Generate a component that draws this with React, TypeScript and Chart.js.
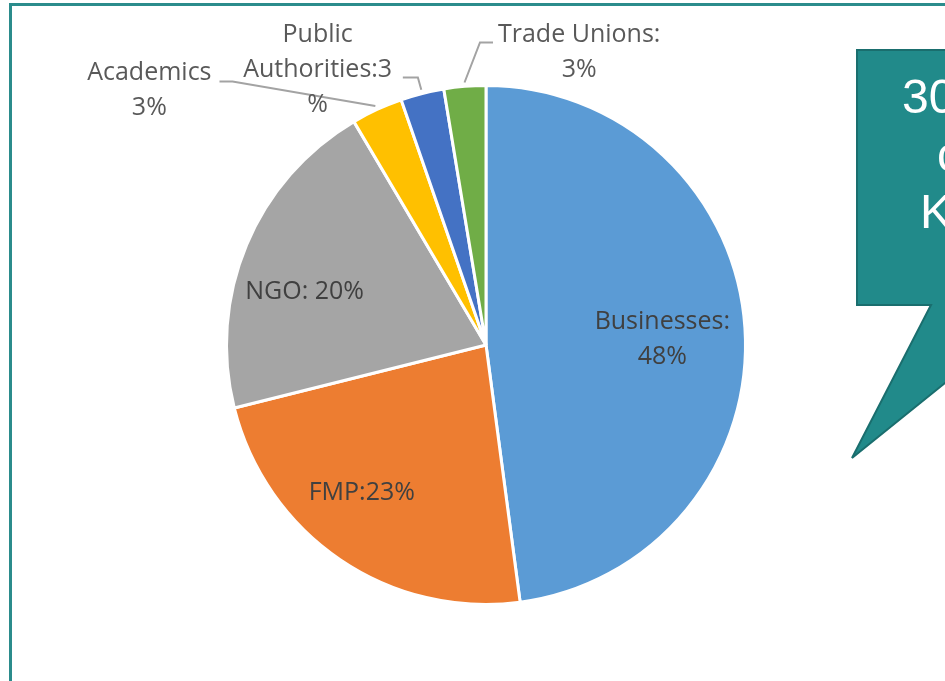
import React, { useEffect, useRef } from "react";
import { Chart, registerables } from "chart.js";

Chart.register(...registerables);

const categories = ["Businesses", "FMP", "NGO", "Academics", "Public Authorities", "Trade Unions"];
const shares = [47.9, 23.2, 20.4, 3.2, 2.7, 2.6];
const sliceColors = ["#5B9BD5", "#ED7D31", "#A5A5A5", "#FFC000", "#4472C4", "#70AD47"];
// label text templates; {v} is replaced by the rounded share
const labelTemplates = [
  ["Businesses:", "{v}%"],
  ["FMP:{v}%"],
  ["NGO: {v}%"],
  ["Academics", "{v}%"],
  ["Public", "Authorities:{v}", "%"],
  ["Trade Unions:", "{v}%"],
];
const calloutLines = ["30", "c", "K"];

// label layout (style): centre of label relative to pie centre, in reference-radius pixels
const REF_R = 259;
const labelLayout: { pos: [number, number]; inside: boolean; leader?: [number, number][] }[] = [
  { pos: [176, -6], inside: true },
  { pos: [-124, 148], inside: true },
  { pos: [-181, -53], inside: true },
  { pos: [-336, -254], inside: false, leader: [[-253, -263], [-266, -263]] },
  { pos: [-168, -275], inside: false, leader: [[-68, -267], [-83, -267]] },
  { pos: [93, -292], inside: false, leader: [[-6, -302], [7, -302]] },
];

const labelPlugin = {
  id: "sliceLabels",
  afterDatasetsDraw(chart: any) {
    const meta = chart.getDatasetMeta(0);
    const ctx = chart.ctx as CanvasRenderingContext2D;
    const data = chart.data.datasets[0].data as number[];
    ctx.save();
    meta.data.forEach((arc: any, i: number) => {
      const cx = arc.x;
      const cy = arc.y;
      const r = arc.outerRadius;
      const s = r / REF_R;
      const lay = labelLayout[i];
      const mid = (arc.startAngle + arc.endAngle) / 2;
      if (lay.leader) {
        ctx.strokeStyle = "#A3A3A3";
        ctx.lineWidth = 2;
        ctx.lineJoin = "miter";
        ctx.beginPath();
        ctx.moveTo(cx + Math.cos(mid) * r * 1.015, cy + Math.sin(mid) * r * 1.015);
        lay.leader.forEach((p) => ctx.lineTo(cx + p[0] * s, cy + p[1] * s));
        ctx.stroke();
      }
      const v = Math.round(data[i]);
      const lines = labelTemplates[i].map((t) => t.replace("{v}", String(v)));
      ctx.font = "25px 'Open Sans'";
      ctx.fillStyle = lay.inside ? "#404040" : "#595959";
      ctx.textAlign = "center";
      ctx.textBaseline = "middle";
      const lh = 35;
      const lx = cx + lay.pos[0] * s;
      const ly = cy + lay.pos[1] * s;
      lines.forEach((ln, k) => {
        ctx.fillText(ln, lx, ly + (k - (lines.length - 1) / 2) * lh);
      });
    });
    ctx.restore();
  },
};

export default function App() {
  const ref = useRef<HTMLCanvasElement | null>(null);
  useEffect(() => {
    document.body.style.margin = "0";
    const chart = new Chart(ref.current as HTMLCanvasElement, {
      type: "pie",
      data: {
        labels: categories,
        datasets: [
          {
            data: shares,
            backgroundColor: sliceColors,
            borderColor: "#FFFFFF",
            borderWidth: 3,
            hoverBorderWidth: 3,
            hoverOffset: 0,
          },
        ],
      },
      options: {
        animation: false,
        responsive: false,
        maintainAspectRatio: false,
        layout: { padding: { left: 225, right: 198, top: 84, bottom: 75 } },
        plugins: { legend: { display: false }, tooltip: { enabled: false } },
        events: [],
      },
      plugins: [labelPlugin],
    });
    return () => chart.destroy();
  }, []);

  return (
    <div style={{ position: "fixed", left: 0, top: 0, width: 945, height: 681, overflow: "hidden", background: "#fff" }}>
      <canvas ref={ref} width={945} height={681} style={{ position: "absolute", left: 0, top: 0, width: 945, height: 681 }} />
      <svg width={945} height={681} style={{ position: "absolute", left: 0, top: 0 }}>
        <line x1={9} y1={4.5} x2={945} y2={4.5} stroke="#2B8C8C" strokeWidth={3} />
        <line x1={10.5} y1={3} x2={10.5} y2={681} stroke="#2B8C8C" strokeWidth={3} />
        <polygon
          points="857,50 960,50 960,371 852,458 931,305 857,305"
          fill="#218A8A"
          stroke="#1A6E6E"
          strokeWidth={2}
        />
      </svg>
      {calloutLines.map((t, i) => (
        <div
          key={i}
          style={{
            position: "absolute",
            left: [902, 937, 920][i],
            top: 68 + i * 57.5,
            font: "48px 'Liberation Sans', Arial, sans-serif",
            lineHeight: "57.5px",
            color: "#FFFFFF",
            whiteSpace: "nowrap",
          }}
        >
          {t}
        </div>
      ))}
    </div>
  );
}
